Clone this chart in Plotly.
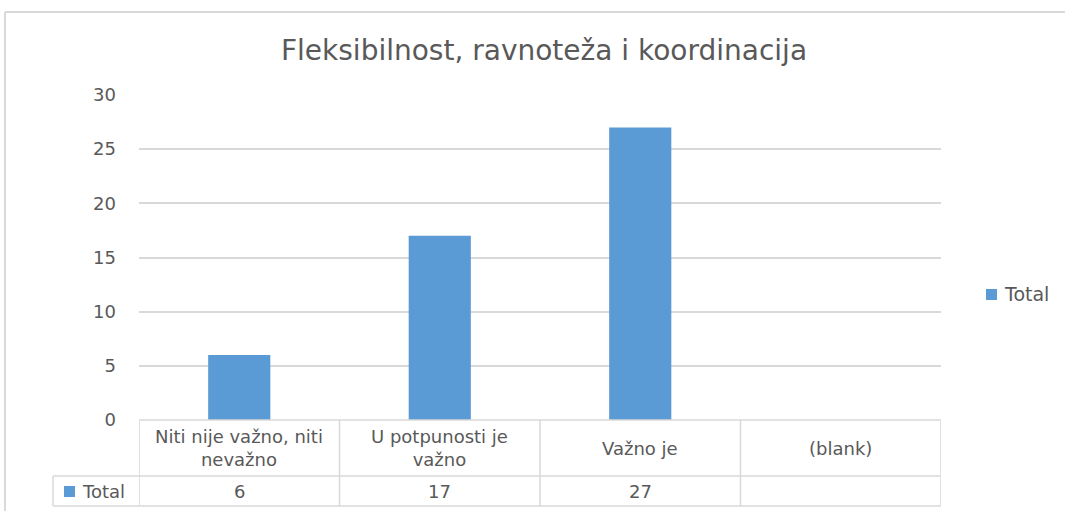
import plotly.graph_objects as go

categories = ["Niti nije važno, niti<br>nevažno", "U potpunosti je<br>važno", "Važno je", "(blank)"]
values = [6, 17, 27, None]
value_labels = ["6", "17", "27", ""]
series_name = "Total"
title_text = "Fleksibilnost, ravnoteža i koordinacija"
y_ticks = [0, 5, 10, 15, 20, 25, 30]

W, H = 1065, 511
L, R, T, B = 139, 941, 95, 420
pw, ph = R - L, B - T

def px_x(x):
    return (x - L) / pw

def px_y(y):
    return (B - y) / ph

BAR = "#5b9bd5"
GRID = "#d9d9d9"
TXT = "#595959"
FONT = "DejaVu Sans"

fig = go.Figure()
fig.add_trace(go.Bar(
    x=list(range(len(categories))), y=values, name=series_name,
    marker=dict(color=BAR, line=dict(width=0)), width=0.31,
    showlegend=False,
))

shapes = []
annotations = []
line = dict(color=GRID, width=1.5)
row1_bot = px_y(476)
row2_bot = px_y(506)
left_col = px_x(53)

# horizontal table lines
shapes.append(dict(type="line", xref="x", yref="paper", x0=-0.5, x1=len(categories) - 0.5,
                   y0=0, y1=0, line=line, layer="above"))
for yy in [row1_bot, row2_bot]:
    shapes.append(dict(type="line", xref="paper", yref="paper", x0=left_col, x1=1,
                       y0=yy, y1=yy, line=line, layer="above"))
# vertical lines
for i in range(len(categories) + 1):
    shapes.append(dict(type="line", xref="x", yref="paper", x0=i - 0.5, x1=i - 0.5,
                       y0=0, y1=row2_bot, line=line))
shapes.append(dict(type="line", xref="paper", yref="paper", x0=left_col, x1=left_col,
                   y0=row1_bot, y1=row2_bot, line=line))
# legend key square in table
shapes.append(dict(type="rect", xref="paper", yref="paper",
                   x0=px_x(64), x1=px_x(75), y0=px_y(497), y1=px_y(486),
                   fillcolor=BAR, line=dict(width=0)))
annotations.append(dict(xref="paper", yref="paper", x=px_x(80), y=(row1_bot + row2_bot) / 2,
                        text=series_name, showarrow=False, xanchor="left", yanchor="middle",
                        font=dict(family=FONT, size=18, color=TXT)))
for i, (c, v) in enumerate(zip(categories, value_labels)):
    annotations.append(dict(xref="x", yref="paper", x=i, y=row1_bot / 2, text=c,
                            showarrow=False, xanchor="center", yanchor="middle",
                            font=dict(family=FONT, size=18, color=TXT)))
    annotations.append(dict(xref="x", yref="paper", x=i, y=(row1_bot + row2_bot) / 2, text=v,
                            showarrow=False, xanchor="center", yanchor="middle",
                            font=dict(family=FONT, size=18, color=TXT)))

# right-hand legend
shapes.append(dict(type="rect", xref="paper", yref="paper",
                   x0=px_x(986), x1=px_x(997), y0=px_y(300), y1=px_y(289),
                   fillcolor=BAR, line=dict(width=0)))
annotations.append(dict(xref="paper", yref="paper", x=px_x(1002), y=px_y(294),
                        text=series_name, showarrow=False, xanchor="left", yanchor="middle",
                        font=dict(family=FONT, size=19, color=TXT)))

# outer chart frame
shapes.append(dict(type="line", xref="paper", yref="paper", x0=px_x(5), x1=px_x(1070),
                   y0=px_y(12), y1=px_y(12), line=dict(color=GRID, width=2)))
shapes.append(dict(type="line", xref="paper", yref="paper", x0=px_x(5), x1=px_x(5),
                   y0=px_y(12), y1=px_y(520), line=dict(color=GRID, width=2)))

fig.update_layout(
    width=W, height=H,
    margin=dict(l=L, r=W - R, t=T, b=H - B, autoexpand=False),
    paper_bgcolor="white", plot_bgcolor="white",
    title=dict(text=title_text, x=544 / W, xref="container", xanchor="center",
               y=1 - 50 / H, yanchor="middle",
               font=dict(family=FONT, size=28, color=TXT)),
    xaxis=dict(range=[-0.5, len(categories) - 0.5], showticklabels=False, showgrid=False,
               zeroline=False, showline=False, fixedrange=True),
    yaxis=dict(range=[0, 30], tickvals=y_ticks, showgrid=True, gridcolor=GRID, gridwidth=1.5,
               zeroline=False, showline=False, ticklabelstandoff=22,
               tickfont=dict(family=FONT, size=18, color=TXT)),
    showlegend=False,
    shapes=shapes, annotations=annotations,
)
fig.write_html("out.html", config={"displayModeBar": False},
               post_script="document.body.style.margin='0';")
